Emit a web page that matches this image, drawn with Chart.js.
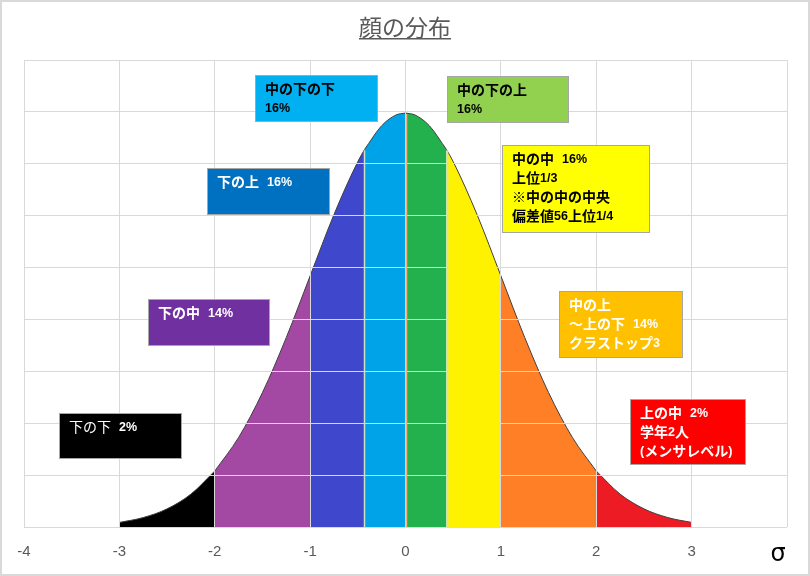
<!DOCTYPE html>
<html>
<head>
<meta charset="utf-8">
<script src="https://cdn.jsdelivr.net/npm/chart.js@4.4.0/dist/chart.umd.min.js"></script>
<style>
  html, body { margin: 0; padding: 0; background: #fff; }
  #wrap { width: 810px; height: 576px; }
</style>
</head>
<body>
<div id="wrap"><canvas id="chart" width="810" height="576"></canvas></div>
<script>
// data
const titleText = "顔の分布";
const sigma   = [-3, -2.75, -2.5, -2.25, -2, -1.75, -1.5, -1.25, -1, -0.75, -0.5, -0.43, -0.25, -0.1, 0,
                 0.1, 0.25, 0.43, 0.5, 0.75, 1, 1.25, 1.5, 1.75, 2, 2.25, 2.5, 2.75, 3];
const density = [0.0044, 0.0091, 0.0175, 0.0317, 0.054, 0.0863, 0.1295, 0.1826, 0.242, 0.3011, 0.3521, 0.3637, 0.3867, 0.397, 0.3989,
                 0.397, 0.3867, 0.3637, 0.3521, 0.3011, 0.242, 0.1826, 0.1295, 0.0863, 0.054, 0.0317, 0.0175, 0.0091, 0.0044];
const bounds    = [-3, -2, -1, -0.43, 0, 0.43, 1, 2, 3];
const segColors = ["#000000", "#a349a4", "#3f48cc", "#00a2e8", "#22b14c", "#fff200", "#ff7f27", "#ed1c24"];
const xTicks     = [-4, -3, -2, -1, 0, 1, 2, 3, 4];
const tickLabels = ["-4", "-3", "-2", "-1", "0", "1", "2", "3", ""];
const axisName   = "σ";

// text boxes, placed in axis units: [left, right, top, bottom]
const notes = [
  { lines: ["中の下の下", "16%"], fill: "#00b0f0", ink: "#000", box: [-1.583, -0.304, 0.4356, 0.3912] },
  { lines: ["中の下の上", "16%"], fill: "#92d050", ink: "#000", box: [0.43, 1.709, 0.4346, 0.3903] },
  { lines: ["下の上 16%"], fill: "#0070c0", ink: "#fff", box: [-2.086, -0.797, 0.3459, 0.3016] },
  { lines: ["中の中 16%", "上位1/3", "※中の中の中央", "偏差値56上位1/4"], fill: "#ffff00", ink: "#000", box: [1.017, 2.558, 0.3681, 0.2843] },
  { lines: ["下の中 14%"], fill: "#7030a0", ink: "#fff", box: [-2.704, -1.426, 0.2197, 0.1754] },
  { lines: ["中の上", "～上の下 14%", "クラストップ3"], fill: "#ffc000", ink: "#fff", box: [1.614, 2.904, 0.2274, 0.1638] },
  { lines: ["下の下 2%"], fill: "#000000", ink: "#fff", box: [-3.637, -2.358, 0.1099, 0.0665], weight: "normal" },
  { lines: ["上の中 2%", "学年2人", "(メンサレベル)"], fill: "#ff0000", ink: "#fff", box: [2.358, 3.564, 0.1233, 0.0607] }
];

const CJK = '"Noto Sans CJK JP", sans-serif';
const NUM = '"Liberation Sans Narrow", "Liberation Sans", sans-serif';
const SMALL = /^[0-9%\/()]+$/;

// one filled dataset per band
const datasets = segColors.map((color, i) => {
  const lo = bounds[i], hi = bounds[i + 1];
  const pts = [];
  sigma.forEach((x, j) => { if (x >= lo && x <= hi) pts.push({ x: x, y: density[j] }); });
  return {
    data: pts,
    fill: "origin",
    backgroundColor: color,
    borderColor: "#404040",
    borderWidth: 1,
    pointRadius: 0,
    cubicInterpolationMode: "monotone"
  };
});

function drawNote(ctx, xs, ys, n) {
  const l = Math.round(xs.getPixelForValue(n.box[0]));
  const r = Math.round(xs.getPixelForValue(n.box[1]));
  const t = Math.round(ys.getPixelForValue(n.box[2]));
  const b = Math.round(ys.getPixelForValue(n.box[3]));
  const wt = n.weight || "bold";
  ctx.fillStyle = n.fill;
  ctx.fillRect(l, t, r - l, b - t);
  ctx.strokeStyle = "#a6a6a6";
  ctx.lineWidth = 1;
  ctx.strokeRect(l + 0.5, t + 0.5, r - l, b - t);
  ctx.fillStyle = n.ink;
  ctx.textBaseline = "middle";
  ctx.textAlign = "left";
  n.lines.forEach((line, i) => {
    let x = l + 10;
    const y = t + 14 + i * 19;
    line.match(/[0-9%\/()]+| |[^0-9%\/() ]+/g).forEach(run => {
      if (run === " ") { x += 8; return; }
      const small = SMALL.test(run);
      ctx.font = small ? "bold 12.5px " + NUM : wt + " 14px " + CJK;
      ctx.fillText(run, x, small ? y + 1 : y);
      x += ctx.measureText(run).width;
    });
  });
}

const overlay = {
  id: "overlay",
  afterDraw(chart) {
    const ctx = chart.ctx, xs = chart.scales.x, ys = chart.scales.y;
    ctx.save();
    // band edges that are not on a grid line
    [[-0.43, "#cfe0c3"], [0, "#f4b183"], [0.43, "#cfe0c3"]].forEach(([v, c]) => {
      const j = sigma.indexOf(v);
      const px = Math.round(xs.getPixelForValue(v)) + 0.5;
      ctx.strokeStyle = c;
      ctx.lineWidth = 1.5;
      ctx.beginPath();
      ctx.moveTo(px, ys.getPixelForValue(density[j]) + 1);
      ctx.lineTo(px, ys.getPixelForValue(0));
      ctx.stroke();
    });
    notes.forEach(n => drawNote(ctx, xs, ys, n));

    // axis name at the far right tick
    ctx.font = '24px "DejaVu Sans", sans-serif';
    ctx.fillStyle = "#000";
    ctx.textAlign = "center";
    ctx.textBaseline = "middle";
    ctx.fillText(axisName, xs.getPixelForValue(4) - 9, 555);

    // title with underline
    ctx.font = "23px " + CJK;
    ctx.fillStyle = "#595959";
    ctx.fillText(titleText, 405, 27);
    const w = ctx.measureText(titleText).width;
    ctx.fillRect(405 - w / 2, 38, w, 1.5);

    // outer frame
    ctx.strokeStyle = "#d9d9d9";
    ctx.lineWidth = 2;
    ctx.strokeRect(1, 1, chart.width - 2, chart.height - 2);
    ctx.restore();
  }
};

new Chart(document.getElementById("chart"), {
  type: "line",
  data: { datasets: datasets },
  options: {
    responsive: false,
    animation: false,
    layout: { padding: { top: 60, left: 24, right: 23, bottom: 0 } },
    plugins: { legend: { display: false }, title: { display: false }, tooltip: { enabled: false } },
    scales: {
      x: {
        type: "linear",
        min: -4,
        max: 4,
        afterBuildTicks: s => { s.ticks = xTicks.map(v => ({ value: v })); },
        afterFit: s => { s.height = 49; },
        grid: { color: "#d9d9d9", z: 1, drawTicks: false },
        border: { color: "#bfbfbf" },
        ticks: {
          padding: 16,
          autoSkip: false,
          maxRotation: 0,
          callback: v => tickLabels[xTicks.indexOf(v)],
          color: "#595959",
          font: { family: NUM, size: 15 }
        }
      },
      y: {
        min: 0,
        max: 0.45,
        afterFit: s => { s.width = 0; },
        ticks: { display: false, stepSize: 0.05 },
        grid: { color: "#d9d9d9", z: 1, drawTicks: false },
        border: { display: false }
      }
    }
  },
  plugins: [overlay]
});
</script>
</body>
</html>
